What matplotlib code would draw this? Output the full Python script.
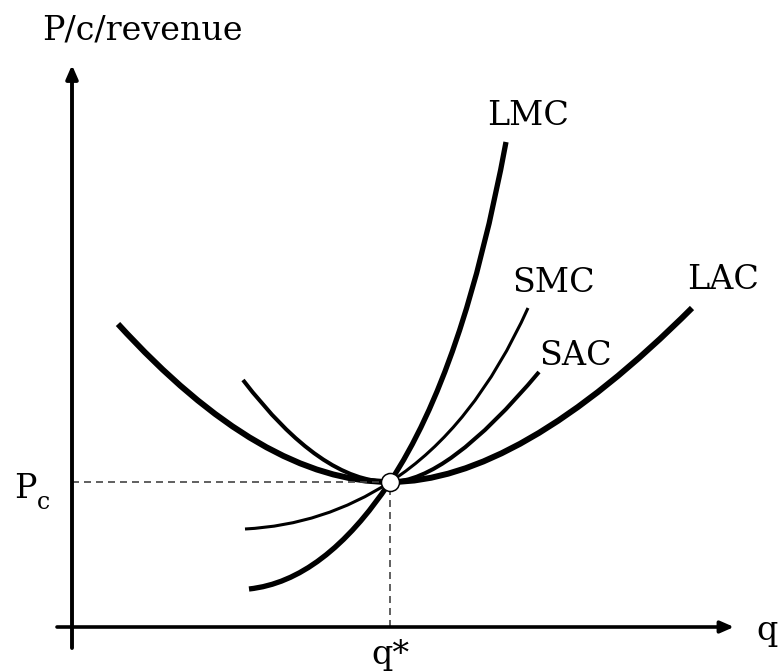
import matplotlib
matplotlib.use("Agg")
import matplotlib.pyplot as plt
from matplotlib.path import Path
from matplotlib.patches import PathPatch

# ---- data (q, price) in chart units ----
q_star = 31.8
p_c = 14.5

# each curve: left end, control, (q*, Pc), control, right end  (quadratic Bezier segments)
lac_q = [4.6, 19.0, q_star, 44.6, 62.0]
lac_p = [30.3, 14.5, p_c, 14.5, 31.9]
sac_q = [17.1, 24.9, q_star, 37.5, 46.7]
sac_p = [24.7, 14.5, p_c, 14.5, 25.5]
smc_q = [17.3, 25.2, q_star, 40.2, 45.6]
smc_p = [9.8, 10.2, p_c, 19.9, 31.9]
lmc_q = [17.7, 25.2, q_star, 39.2, 43.4]
lmc_p = [3.8, 4.6, p_c, 25.7, 48.5]

curve_names = ["LAC", "SAC", "SMC", "LMC"]

plt.rcParams['font.family'] = ['DejaVu Serif']

fig = plt.figure(figsize=(7.78, 6.72), dpi=100)
ax = fig.add_axes([0, 0, 1, 1])
ax.set_xlim(-7.2, 70.6)
ax.set_ylim(-4.5, 62.7)
ax.axis('off')

# axes with arrows
ax.annotate('', xy=(66.2, 0), xytext=(-1.5, 0),
            arrowprops=dict(arrowstyle='-|>,head_length=0.8,head_width=0.35', lw=2.6,
                            color='black', shrinkA=0, shrinkB=0))
ax.annotate('', xy=(0, 56.2), xytext=(0, -2.1),
            arrowprops=dict(arrowstyle='-|>,head_length=0.8,head_width=0.35', lw=2.8,
                            color='black', shrinkA=0, shrinkB=0))

# dashed guides
ax.plot([0, q_star], [p_c, p_c], color='#444444', lw=1.2, ls=(0, (4.2, 3.0)))
ax.plot([q_star, q_star], [0, p_c], color='#444444', lw=1.2, ls=(0, (4.2, 3.0)))

codes = [Path.MOVETO, Path.CURVE3, Path.CURVE3, Path.CURVE3, Path.CURVE3]

def curve(qs, ps, lw):
    path = Path(list(zip(qs, ps)), codes)
    ax.add_patch(PathPatch(path, fill=False, lw=lw, edgecolor='black',
                           capstyle='butt', joinstyle='round'))

curve(lac_q, lac_p, 4.3)
curve(sac_q, sac_p, 2.9)
curve(smc_q, smc_p, 2.2)
curve(lmc_q, lmc_p, 3.8)

ax.plot([q_star], [p_c], 'o', ms=13, mfc='white', mec='black', mew=1.1, zorder=5)

fs = 24
ax.text(-3.0, 58.8, 'P/c/revenue', fontsize=fs, ha='left', va='baseline')
ax.text(41.5, 50.2, 'LMC', fontsize=fs, ha='left', va='baseline')
ax.text(44.0, 33.5, 'SMC', fontsize=fs, ha='left', va='baseline')
ax.text(46.7, 26.2, 'SAC', fontsize=fs, ha='left', va='baseline')
ax.text(61.5, 33.8, 'LAC', fontsize=fs, ha='left', va='baseline')
ax.text(68.4, -1.3, 'q', fontsize=fs, ha='left', va='baseline')
ax.text(q_star, -3.7, 'q*', fontsize=fs, ha='center', va='baseline')
ax.text(-5.8, 12.9, 'P', fontsize=fs, ha='left', va='baseline')
ax.text(-3.5, 11.8, 'c', fontsize=17, ha='left', va='baseline')

fig.savefig('out.png', dpi=100)
